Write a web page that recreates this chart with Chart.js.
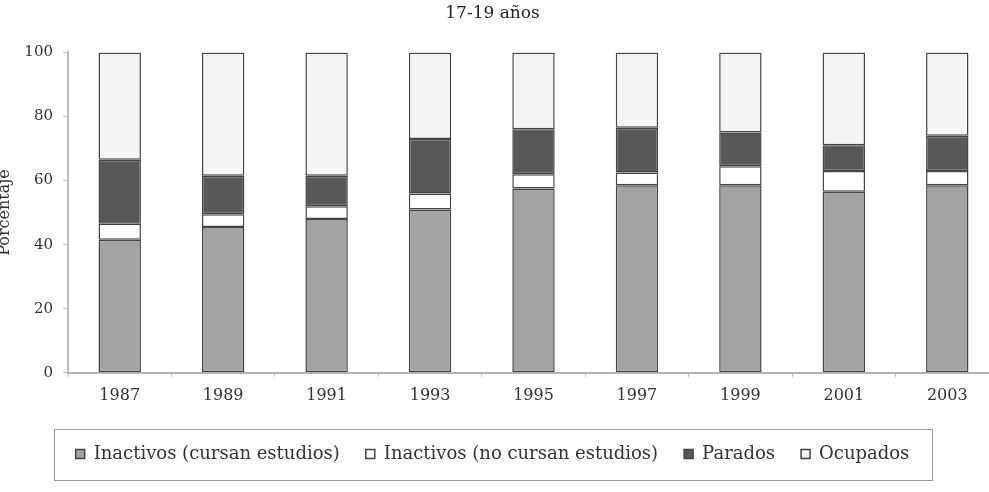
<!DOCTYPE html>
<html>
<head>
<meta charset="utf-8">
<script src="https://cdn.jsdelivr.net/npm/chart.js@4/dist/chart.umd.min.js"></script>
<style>
  html,body{margin:0;padding:0;background:#fff;overflow:hidden;}
  #wrap{position:absolute;left:-14px;top:0;width:1020px;height:492px;}
</style>
</head>
<body>
<div id="wrap"><canvas id="chart"></canvas></div>
<script>
// 17-19 años — situación laboral (%)
const years     = ['1987','1989','1991','1993','1995','1997','1999','2001','2003'];
const cursan    = [41.5, 45.5, 48, 51, 57.5, 58.5, 58.5, 56.5, 58.5];
const noCursan  = [5, 4, 4, 5, 4.5, 4, 6, 6.5, 4.5];
const parados   = [20, 12, 9.5, 17, 14, 14, 10.5, 8, 11];
const ocupados  = [33.5, 38.5, 38.5, 27, 24, 23.5, 25, 29, 26];

const FONT = 'DejaVu Serif';
const INK = '#333';

// marco alrededor de la leyenda
const legendFrame = {
  id:'legendFrame',
  afterDraw(chart){
    const lg = chart.legend;
    if(!lg || !lg.legendHitBoxes || !lg.legendHitBoxes.length) return;
    const hb = lg.legendHitBoxes;
    const l = Math.min(...hb.map(b=>b.left)) - 22;
    const r = Math.max(...hb.map(b=>b.left+b.width)) + 22;
    const cy = hb[0].top + hb[0].height/2;
    const ctx = chart.ctx;
    ctx.save();
    ctx.strokeStyle = '#999';
    ctx.lineWidth = 1;
    ctx.strokeRect(Math.round(l)+0.5, Math.round(cy-25)+0.5, Math.round(r-l), 51);
    ctx.restore();
  }
};

const seg = (label, data, fill)=>({
  label, data,
  backgroundColor: fill,
  borderColor: '#444',
  borderWidth: 1.5,
  borderSkipped: false,
  barPercentage: 0.41,
  categoryPercentage: 1
});

new Chart(document.getElementById('chart'), {
  type: 'bar',
  data: {
    labels: years,
    datasets: [
      seg('Inactivos (cursan estudios)', cursan, '#a3a3a3'),
      seg('Inactivos (no cursan estudios)', noCursan, '#ffffff'),
      seg('Parados', parados, '#585858'),
      seg('Ocupados', ocupados, '#f4f4f4')
    ]
  },
  options: {
    responsive: true,
    maintainAspectRatio: false,
    animation: false,
    layout: { padding: { left: 0, right: 7, top: 0, bottom: 19 } },
    plugins: {
      title: {
        display: true,
        text: '17-19 años',
        color: '#222',
        font: { family: FONT, size: 17, weight: 'normal' },
        padding: { top: 3, bottom: 29 }
      },
      legend: {
        position: 'bottom',
        labels: {
          color: INK,
          font: { family: FONT, size: 18 },
          boxWidth: 9, boxHeight: 9,
          padding: 26
        }
      },
      tooltip: { enabled: false }
    },
    scales: {
      x: {
        stacked: true,
        afterFit(scale){ scale.height += 5; },
        grid: { display: true, drawOnChartArea: false, drawTicks: true, tickLength: 4, color: '#bbb', offset: true },
        border: { display: true, color: '#b5b5b5', width: 2 },
        ticks: { color: INK, font: { family: FONT, size: 16 }, padding: 9, maxRotation: 0 }
      },
      y: {
        stacked: true,
        min: 0, max: 100,
        afterFit(scale){ scale.width = 82; },
        grid: { display: true, drawOnChartArea: false, drawTicks: true, tickLength: 5, color: '#bbb' },
        border: { display: true, color: '#bbb', width: 2 },
        ticks: { stepSize: 20, color: INK, font: { family: FONT, size: 15 }, padding: 10 },
        title: {
          display: true,
          text: 'Porcentaje',
          color: INK,
          font: { family: FONT, size: 16 },
          padding: { top: 9, bottom: 0 }
        }
      }
    }
  },
  plugins: [legendFrame]
});
</script>
</body>
</html>
